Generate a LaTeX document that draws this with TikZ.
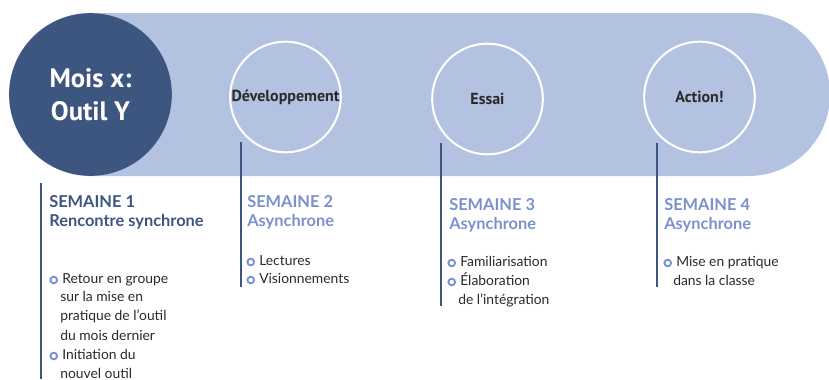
\documentclass[tikz,border=0pt]{standalone}
\usepackage{fontspec}
\setmainfont{Lato}
\newfontfamily\titlefont{PT Sans}
\usepackage{xcolor}
\usetikzlibrary{positioning}

\definecolor{navy}{HTML}{3D5680}
\definecolor{bandblue}{HTML}{B4C2E1}
\definecolor{softblue}{HTML}{7B91CD}
\definecolor{ink}{HTML}{2A2A2A}

\begin{document}
\begin{tikzpicture}[
  x=0.75pt, y=-0.75pt,
  hub/.style={circle, fill=navy, minimum size=122pt, inner sep=0pt, text=white, align=center, font=\titlefont\bfseries\fontsize{20}{24.5}\selectfont},
  phase/.style={circle, draw=white, line width=1.5pt, minimum size=83pt, inner sep=0pt, text=ink, font=\titlefont\bfseries\fontsize{12}{14}\selectfont},
  rule/.style={navy, line width=1.9pt},
  head/.style={anchor=mid west, inner sep=0pt, font=\bfseries\fontsize{12.3}{14}\selectfont},
  body/.style={anchor=mid west, inner sep=0pt, text=ink, font=\fontsize{10.4}{12}\selectfont},
  dot/.style={circle, draw=softblue, line width=1.4pt, minimum size=5pt, inner sep=0pt}
]
\useasboundingbox (0,0) rectangle (829,379);

% Band
\fill[bandblue, rounded corners=61pt] (9,13) rectangle (830,176);

% Month and phases
\node[hub] (month) at (90.5,94.5) {Mois x:\\Outil Y};
\node[phase] (dev) at (285.5,97) {Développement};
\node[phase] (essai) at (487.5,99) {Essai};
\node[phase] (action) at (699.5,97) {Action!};

% Rules
\coordinate (r1top) at (41,183);  \coordinate (r1bot) at (41,379);
\coordinate (r2top) at (241,142); \coordinate (r2bot) at (241,287);
\coordinate (r3top) at (441,143); \coordinate (r3bot) at (441,306);
\coordinate (r4top) at (657,143); \coordinate (r4bot) at (657,287);
\draw[rule] (r1top) -- (r1bot);
\draw[rule] (r2top) -- (r2bot);
\draw[rule] (r3top) -- (r3bot);
\draw[rule] (r4top) -- (r4bot);

% Week 1
\node[head, text=navy] (w1a) at (49,204.5) {SEMAINE 1};
\node[head, text=navy] (w1b) at (49,223.5) {Rencontre synchrone};
\node[body] (w1c) at (62,280) {Retour en groupe};
\node[body] (w1d) at (60,298.5) {sur la mise en};
\node[body] (w1e) at (60,317.5) {pratique de l’outil};
\node[body] (w1f) at (60,337) {du mois dernier};
\node[body] (w1g) at (62,356) {Initiation du};
\node[body] (w1h) at (60,375) {nouvel outil};
\node[dot, left=3pt of w1c.mid west] (b1c) {};
\node[dot, left=3pt of w1g.mid west] (b1g) {};

% Week 2
\node[head, text=softblue] (w2a) at (247,204.5) {SEMAINE 2};
\node[head, text=softblue] (w2b) at (247,223.5) {Asynchrone};
\node[body] (w2c) at (259,262) {Lectures};
\node[body] (w2d) at (259,280) {Visionnements};
\node[dot, left=3pt of w2c.mid west] (b2c) {};
\node[dot, left=3pt of w2d.mid west] (b2d) {};

% Week 3
\node[head, text=softblue] (w3a) at (449,207.5) {SEMAINE 3};
\node[head, text=softblue] (w3b) at (449,226.5) {Asynchrone};
\node[body] (w3c) at (460,263) {Familiarisation};
\node[body] (w3d) at (460,282) {Élaboration};
\node[body] (w3e) at (458,301) {de l’intégration};
\node[dot, left=3pt of w3c.mid west] (b3c) {};
\node[dot, left=3pt of w3d.mid west] (b3d) {};

% Week 4
\node[head, text=softblue] (w4a) at (664,207.5) {SEMAINE 4};
\node[head, text=softblue] (w4b) at (664,226.5) {Asynchrone};
\node[body] (w4c) at (676,263) {Mise en pratique};
\node[body] (w4d) at (673,282) {dans la classe};
\node[dot, left=3pt of w4c.mid west] (b4c) {};

\end{tikzpicture}
\end{document}
